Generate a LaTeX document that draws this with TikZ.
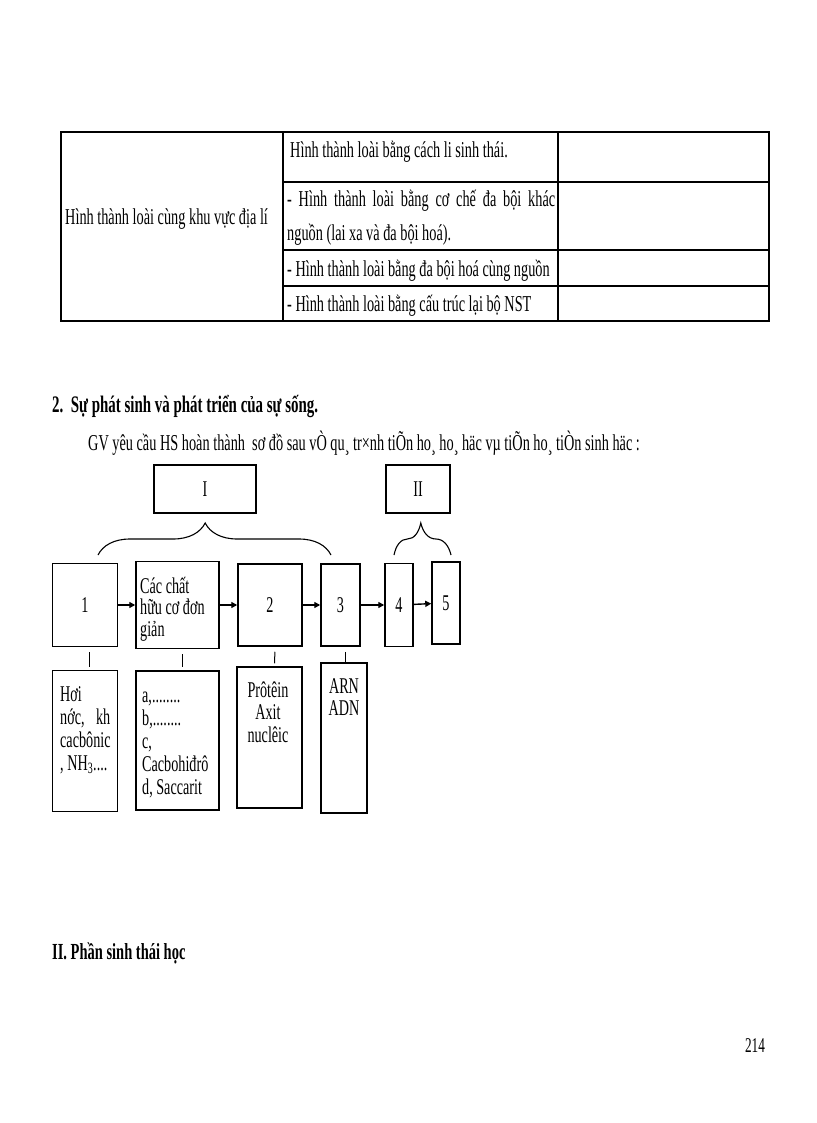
\documentclass[tikz,border=0pt]{standalone}
\usepackage{fontspec}
\setmainfont[FakeStretch=0.63]{Liberation Serif}
\usetikzlibrary{arrows.meta,decorations.pathreplacing}
\begin{document}
\begin{tikzpicture}[x=1pt,y=-1pt,
  box/.style={draw, line width=1.5pt, inner sep=0pt},
  txt/.style={font=\fontsize{22.5}{23}\selectfont, inner sep=0pt},
  tbl/.style={font=\fontsize{22.7}{34}\selectfont, inner sep=0pt, anchor=base west},
  hd/.style={font=\fontsize{23.7}{24}\selectfont\bfseries, inner sep=0pt, anchor=base west},
  arr/.style={line width=1.4pt, -{Triangle[length=6pt,width=6pt]}},
  tick/.style={line width=1pt, shorten <=5pt, shorten >=3pt},
  brc/.style={line width=1.1pt, decorate, decoration={brace, amplitude=32pt, raise=0pt}}]
\useasboundingbox (0,0) rectangle (816,1123);
\fill[white] (0,0) rectangle (816,1123);

% ---------- table ----------
\draw[line width=1.5pt] (61,132) rectangle (769,321);
\draw[line width=1.4pt] (283,132) -- (283,321) (558,132) -- (558,321);
\draw[line width=1.4pt] (283,182) -- (769,182) (283,250) -- (769,250) (283,286) -- (769,286);
\node[tbl] (t0) at (65,225) {Hình thành loài cùng khu vực địa lí};
\node[tbl] (t1) at (290,158) {Hình thành loài bằng cách li sinh thái.};
\node[tbl, text width=268pt, align=justify] (t2) at (287,207) {- Hình thành loài bằng cơ chế đa bội khác\linebreak nguồn (lai xa và đa bội hoá).};
\node[tbl] (t3) at (287,276) {- Hình thành loài bằng đa bội hoá cùng nguồn};
\node[tbl] (t4) at (287,311) {- Hình thành loài bằng cấu trúc lại bộ NST};

% ---------- headings ----------
\node[hd] (h1) at (52,412) {2.\ \ Sự phát sinh và phát triển của sự sống.};
\node[tbl] (h2) at (88,450) {GV yêu cầu HS hoàn thành\ \ sơ đồ sau vÒ qu¸ tr×nh tiÕn ho¸ ho¸ häc vµ tiÕn ho¸ tiÒn sinh häc :};

% ---------- top boxes ----------
\node[box, minimum width=102pt, minimum height=48pt, txt] (bI) at (205,489) {I};
\node[box, minimum width=64pt, minimum height=48pt, txt] (bII) at (418,489) {II};

\coordinate (brIa) at (98,555);
\coordinate (brIb) at (331,555);
\coordinate (brIIa) at (394,555);
\coordinate (brIIb) at (451,555);
\draw[brc, decoration={aspect=0.46}] (brIa) -- (brIb);
\draw[brc, decoration={aspect=0.47}] (brIIa) -- (brIIb);

% ---------- main row ----------
\node[box, minimum width=65pt, minimum height=83pt, txt] (b1) at (85,605) {1};
\node[box, minimum width=83pt, minimum height=87pt] (bc) at (177.5,605) {};
\node[txt, font=\fontsize{22.5}{21.5}\selectfont, anchor=base west, text width=78pt, align=flush left] (bct) at (140,593) {Các chất\\ hữu cơ đơn\\ giản};
\node[box, minimum width=64pt, minimum height=82pt, txt] (b2) at (270,605) {2};
\node[box, minimum width=39pt, minimum height=82pt, txt] (b3) at (340.5,605) {3};
\node[box, minimum width=28pt, minimum height=83pt, txt] (b4) at (399,605) {4};
\node[box, minimum width=28pt, minimum height=82pt, txt] (b5) at (446,603) {5};

\draw[arr] (b1) -- (bc);
\draw[arr] (bc) -- (b2);
\draw[arr] (b2) -- (b3);
\draw[arr] (b3) -- (b4);
\draw[arr] (b4) -- (b5);

% ---------- lower boxes ----------
\node[box, minimum width=65pt, minimum height=141pt] (lA) at (85,741) {};
\node[box, minimum width=83pt, minimum height=139pt] (lB) at (177.5,740.5) {};
\node[box, minimum width=65pt, minimum height=141pt] (lC) at (269.5,737.5) {};
\node[box, minimum width=46pt, minimum height=150pt] (lD) at (344,738) {};

\draw[tick] ([xshift=4pt]b1.south) -- ([xshift=4pt]lA.north);
\draw[tick] ([xshift=5pt]bc.south) -- ([xshift=5pt]lB.north);
\draw[tick] ([xshift=5pt]b2.south) -- ([xshift=5pt]lC.north);
\draw[tick, shorten >=0pt] ([xshift=4.5pt]b3.south) -- ([xshift=1pt]lD.north);

\node[txt, anchor=base west, text width=60pt, align=flush left] (lAt) at (60,701) {Hơi\\ \makebox[50pt][l]{nớc,\hfill kh}\\ cacbônic\\ , NH\textsubscript{3}....};
\node[txt, anchor=base west, text width=76pt, align=flush left] (lBt) at (142,702) {a,........\\ b,........\\ c,\\ Cacbohiđrô\\ d, Saccarit};
\node[txt, font=\fontsize{22.5}{22.5}\selectfont, anchor=base, text width=60pt, align=flush center] (lCt) at (268,697) {Prôtêin\\ Axit\\ nuclêic};
\node[txt, font=\fontsize{22.5}{22}\selectfont, anchor=base, text width=44pt, align=flush center] (lDt) at (344,693) {ARN\\ ADN};

% ---------- bottom ----------
\node[hd, font=\fontsize{23}{24}\selectfont\bfseries] (h3) at (52,959) {II. Phần sinh thái học};
\node[txt, font=\fontsize{21}{23}\selectfont] (pg) at (755,1046) {214};
\end{tikzpicture}
\end{document}
